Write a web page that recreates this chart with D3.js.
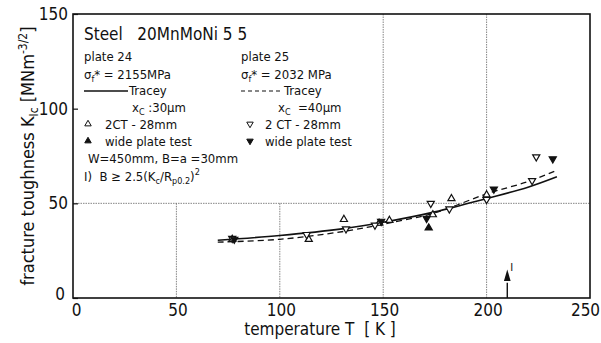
<!DOCTYPE html>
<html>
<head>
<meta charset="utf-8">
<script src="https://cdn.jsdelivr.net/npm/d3@7"></script>
<style>
  body { margin: 0; background: #fff; }
  svg { display: block; }
  text { font-family: "DejaVu Sans Condensed", "DejaVu Sans", sans-serif; font-stretch: condensed; fill: #111; }
</style>
</head>
<body>
<svg id="chart" width="601" height="343"></svg>
<script>
// temperature ticks and K_Ic ticks
let xTicks = [0, 50, 100, 150, 200, 250];
let yTicks = [0, 50, 100, 150];

// Tracey curves [T, K]
let traceyPlate24 = [[70, 30.5], [100, 33], [130, 36.5], [150, 40], [175, 45.5], [200, 52.5], [220, 58.5], [234, 64]];
let traceyPlate25 = [[70, 29.5], [100, 31], [130, 35], [150, 39], [175, 45], [200, 55], [220, 61.5], [234, 67.5]];

// measured points [T, K]
let ct24 = [[77, 31], [114, 31], [131, 41.5], [148, 39.5], [153, 41], [174, 44], [183, 52.5], [200, 54.5]];
let ct25 = [[77, 31.5], [113, 33.5], [132, 36.5], [146, 38.5], [173, 50], [182, 47], [200, 52], [222, 62], [224, 74.5]];
let wide24 = [[172, 37]];
let wide25 = [[78, 31], [149, 40.5], [171, 42], [203.5, 57.5], [232, 73.5]];

let svg = d3.select("#chart");
let x = d3.scaleLinear().domain([0, 250]).range([73, 590]);
let y = d3.scaleLinear().domain([0, 150]).range([298, 14]);

// grid lines (dotted)
let grid = svg.append("g").attr("stroke", "#666").attr("stroke-width", 0.8).attr("stroke-dasharray", "1.5,1");
grid.append("line").attr("x1", x(0)).attr("x2", x(250)).attr("y1", y(50)).attr("y2", y(50));
[50, 100].forEach(function (t) {
  grid.append("line").attr("x1", x(t)).attr("x2", x(t)).attr("y1", y(50)).attr("y2", y(0));
});
[150, 200].forEach(function (t) {
  grid.append("line").attr("x1", x(t)).attr("x2", x(t)).attr("y1", y(150)).attr("y2", y(0));
});

// frame
svg.append("rect")
  .attr("x", x(0)).attr("y", y(150))
  .attr("width", x(250) - x(0)).attr("height", y(0) - y(150))
  .attr("fill", "none").attr("stroke", "#111").attr("stroke-width", 1.6);

// axes
let xAxis = d3.axisBottom(x).tickValues(xTicks).tickSize(0).tickPadding(6);
svg.append("g").attr("transform", "translate(0," + y(0) + ")").call(xAxis)
  .call(g => g.select(".domain").remove())
  .selectAll("text").attr("font-size", 17)
  .attr("dx", d => d === 0 ? 3 : (d === 250 ? -5 : 1));

let yAxis = d3.axisLeft(y).tickValues(yTicks).tickSize(-5).tickPadding(5);
svg.append("g").attr("transform", "translate(" + x(0) + ",0)").call(yAxis)
  .call(g => g.select(".domain").remove())
  .call(g => g.selectAll("line").attr("stroke", "#111").attr("stroke-width", 1.2))
  .selectAll("text").attr("font-size", 17).attr("dy", d => d === 0 ? "0.1em" : "0.32em")
  .attr("dx", d => d === 0 ? -3 : 0);

// axis titles
svg.append("text").attr("x", 320).attr("y", 335).attr("text-anchor", "middle").attr("font-size", 17)
  .attr("xml:space", "preserve").text("temperature T  [ K ]");

let yt = svg.append("text").attr("transform", "translate(34,156) rotate(-90)")
  .attr("text-anchor", "middle").attr("font-size", 18);
yt.append("tspan").text("fracture toughness K");
yt.append("tspan").attr("font-size", 12).attr("dy", 4).text("Ic");
yt.append("tspan").attr("dy", -4).text(" [MNm");
yt.append("tspan").attr("font-size", 12).attr("dy", -7).text("-3/2");
yt.append("tspan").attr("dy", 7).text("]");

// curves
let line = d3.line().x(d => x(d[0])).y(d => y(d[1])).curve(d3.curveCatmullRom);
svg.append("path").datum(traceyPlate24).attr("d", line)
  .attr("fill", "none").attr("stroke", "#111").attr("stroke-width", 1.6);
svg.append("path").datum(traceyPlate25).attr("d", line)
  .attr("fill", "none").attr("stroke", "#111").attr("stroke-width", 1.3).attr("stroke-dasharray", "6,4");

// markers
let tri = d3.symbol().type(d3.symbolTriangle).size(22);
function drawPoints(data, down, filled) {
  svg.append("g").selectAll("path").data(data).join("path")
    .attr("d", tri)
    .attr("transform", d => "translate(" + x(d[0]) + "," + y(d[1]) + ")" + (down ? " rotate(180)" : ""))
    .attr("fill", filled ? "#111" : "#fff")
    .attr("stroke", "#111").attr("stroke-width", 1.2);
}
drawPoints(ct24, false, false);
drawPoints(ct25, true, false);
drawPoints(wide24, false, true);
drawPoints(wide25, true, true);

// arrow I at 210 K
svg.append("line").attr("x1", x(210)).attr("x2", x(210)).attr("y1", y(0)).attr("y2", y(8))
  .attr("stroke", "#111").attr("stroke-width", 1.4);
svg.append("path").attr("d", d3.symbol().type(d3.symbolTriangle).size(24))
  .attr("transform", "translate(" + x(210) + "," + y(11) + ") scale(0.9,1.8)").attr("fill", "#111");
svg.append("text").attr("x", x(210) + 3).attr("y", y(14)).attr("font-size", 11).text("I");

// legend
let lg = svg.append("g");
lg.append("text").attr("x", 84).attr("y", 40).attr("font-size", 17).attr("xml:space", "preserve")
  .text("Steel   20MnMoNi 5 5");

function σText(xp, yp, val) {
  let t = lg.append("text").attr("x", xp).attr("y", yp).attr("font-size", 13);
  t.append("tspan").text("σ");
  t.append("tspan").attr("font-size", 9).attr("dy", 3).text("f");
  t.append("tspan").attr("dy", -3).text("* = " + val);
}
lg.append("text").attr("x", 84).attr("y", 61).attr("font-size", 13).text("plate 24");
lg.append("text").attr("x", 241).attr("y", 61).attr("font-size", 13).text("plate 25");
σText(84, 79, "2155MPa");
σText(241, 79, "2032 MPa");

lg.append("line").attr("x1", 84).attr("x2", 128).attr("y1", 91).attr("y2", 91)
  .attr("stroke", "#111").attr("stroke-width", 1.3);
lg.append("text").attr("x", 129).attr("y", 95).attr("font-size", 13).text("Tracey");
lg.append("line").attr("x1", 241).attr("x2", 282).attr("y1", 91).attr("y2", 91)
  .attr("stroke", "#111").attr("stroke-width", 1.2).attr("stroke-dasharray", "4,3");
lg.append("text").attr("x", 284).attr("y", 95).attr("font-size", 13).text("Tracey");

function xcText(xp, yp, val) {
  let t = lg.append("text").attr("x", xp).attr("y", yp).attr("font-size", 13).attr("xml:space", "preserve");
  t.append("tspan").text("x");
  t.append("tspan").attr("font-size", 9).attr("dy", 3).text("C");
  t.append("tspan").attr("dy", -3).text(val);
}
xcText(132, 112, " :30µm");
xcText(278, 112, "  =40µm");

let legTri = d3.symbol().type(d3.symbolTriangle).size(18);
[[88, 124, false, false], [250, 124, true, false], [88, 141, false, true], [250, 141, true, true]].forEach(function (m) {
  lg.append("path").attr("d", legTri)
    .attr("transform", "translate(" + m[0] + "," + m[1] + ")" + (m[2] ? " rotate(180)" : ""))
    .attr("fill", m[3] ? "#111" : "#fff").attr("stroke", "#111").attr("stroke-width", 1);
});
lg.append("text").attr("x", 105).attr("y", 129).attr("font-size", 13).text("2CT - 28mm");
lg.append("text").attr("x", 265).attr("y", 129).attr("font-size", 13).text("2 CT - 28mm");
lg.append("text").attr("x", 105).attr("y", 146).attr("font-size", 13).text("wide plate test");
lg.append("text").attr("x", 265).attr("y", 146).attr("font-size", 13).text("wide plate test");
lg.append("text").attr("x", 88).attr("y", 163).attr("font-size", 13).text("W=450mm, B=a =30mm");

let eq = lg.append("text").attr("x", 84).attr("y", 181).attr("font-size", 13).attr("xml:space", "preserve");
eq.append("tspan").text("I)  B ≥ 2.5(K");
eq.append("tspan").attr("font-size", 9).attr("dy", 3).text("c");
eq.append("tspan").attr("dy", -3).text("/R");
eq.append("tspan").attr("font-size", 9).attr("dy", 3).text("p0.2");
eq.append("tspan").attr("dy", -3).text(")");
eq.append("tspan").attr("font-size", 9).attr("dy", -6).text("2");
</script>
</body>
</html>
